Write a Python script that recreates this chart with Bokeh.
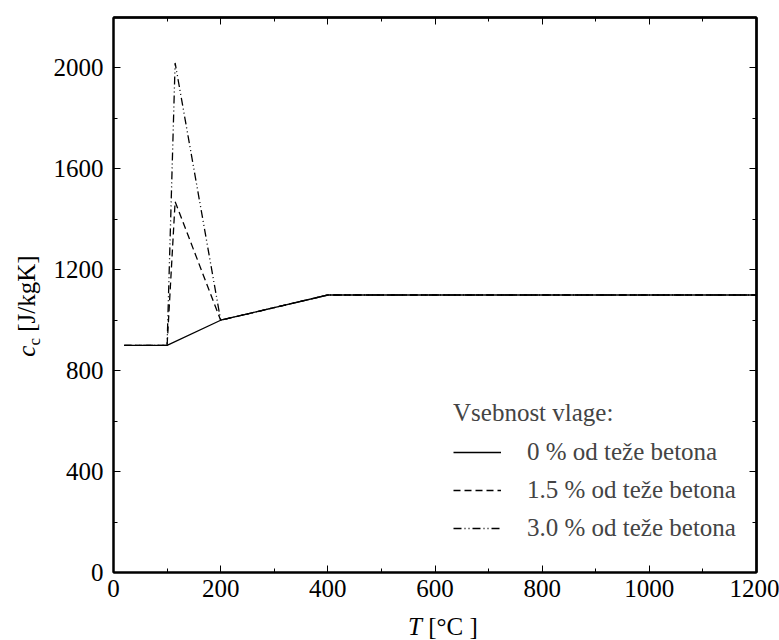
from bokeh.plotting import figure
from bokeh.models import (Range1d, FixedTicker, LinearAxis, Legend, LegendItem, Div)
from bokeh.layouts import row, column
from bokeh.embed import file_html
from bokeh.resources import INLINE

# ---- data ----
T_dry = [20, 100, 200, 400, 1200]
c_dry = [900, 900, 1000, 1100, 1100]
T_wet = [20, 100, 115, 200, 400, 1200]
c_15 = [900, 900, 1470, 1000, 1100, 1100]
c_30 = [900, 900, 2020, 1000, 1100, 1100]
series_labels = ["0 % od teže betona", "1.5 % od teže betona", "3.0 % od teže betona"]
legend_title = "Vsebnost vlage:"
x_ticks = [0, 200, 400, 600, 800, 1000, 1200]
x_minor = [100, 300, 500, 700, 900, 1100]
y_ticks = [0, 400, 800, 1200, 1600, 2000]
y_minor = [200, 600, 1000, 1400, 1800, 2200]

FONT = "Liberation Serif"
FS = "25px"

YDIV_W = 50
P_W = 779 - YDIV_W
P_H = 612
XDIV_H = 640 - P_H

p = figure(width=P_W, height=P_H, x_range=Range1d(0, 1200), y_range=Range1d(0, 2200),
           output_backend="svg", toolbar_location=None,
           min_border_left=112 - YDIV_W, min_border_right=23, min_border_top=17,
           min_border_bottom=P_H - 572)
p.grid.visible = False
p.outline_line_color = "black"
p.outline_line_width = 2

bottom_axis = p.below[0]
left_axis = p.left[0]
bottom_axis.ticker = FixedTicker(ticks=x_ticks, minor_ticks=x_minor)
left_axis.ticker = FixedTicker(ticks=y_ticks, minor_ticks=y_minor)

for ax in [bottom_axis, left_axis]:
    ax.axis_line_width = 2
    ax.axis_line_color = "black"
    ax.major_tick_in = 7
    ax.major_tick_out = 0
    ax.minor_tick_in = 4
    ax.minor_tick_out = 0
    ax.major_tick_line_color = "black"
    ax.minor_tick_line_color = "black"
    ax.major_label_text_font = FONT
    ax.major_label_text_font_size = FS
    ax.major_label_text_color = "black"

left_axis.major_label_standoff = 10
bottom_axis.major_label_standoff = 7

# label-free tick axes on the top and right edges (inward ticks only)
def tick_axis(marks, length):
    ax = LinearAxis(ticker=FixedTicker(ticks=[], minor_ticks=marks))
    ax.axis_line_width = 2
    ax.axis_line_color = "black"
    ax.major_tick_in = 0
    ax.major_tick_out = 0
    ax.minor_tick_in = length
    ax.minor_tick_out = 0
    ax.minor_tick_line_color = "black"
    ax.major_label_standoff = 0
    return ax

p.add_layout(tick_axis(x_ticks, 7), "above")
p.add_layout(tick_axis(x_minor, 4), "above")
p.add_layout(tick_axis(y_ticks, 7), "right")
p.add_layout(tick_axis(y_minor, 4), "right")

r0 = p.line(T_dry, c_dry, line_color="black", line_width=1.3)
r1 = p.line(T_wet, c_15, line_color="black", line_width=1.3, line_dash="7 4")
r2 = p.line(T_wet, c_30, line_color="black", line_width=1.3, line_dash="8 3 1 3 1 3")

legend = Legend(items=[LegendItem(label=series_labels[0], renderers=[r0]),
                       LegendItem(label=series_labels[1], renderers=[r1]),
                       LegendItem(label=series_labels[2], renderers=[r2])],
                title=legend_title, location=(340, 27))
legend.title_text_font = FONT
legend.title_text_font_size = FS
legend.title_text_font_style = "normal"
legend.title_standoff = 8
legend.label_text_font = FONT
legend.label_text_font_size = FS
legend.glyph_width = 48
legend.glyph_height = 34
legend.label_height = 34
legend.label_standoff = 26
legend.spacing = 4
legend.padding = 0
legend.margin = 0
legend.border_line_color = None
legend.background_fill_alpha = 0
p.add_layout(legend)

# axis titles with italic symbol and subscript (HTML)
y_html = (
    f'<div style="position:relative; width:{YDIV_W}px; height:{P_H}px;">'
    '<div style="position:absolute; left:28px; top:306px; white-space:nowrap; '
    f"font-family:'{FONT}'; font-size:{FS}; line-height:25px; color:black; "
    'transform:translate(-50%,-50%) rotate(-90deg);">'
    '<i>c</i><span style="font-size:17px; position:relative; top:5px;">c</span>&nbsp;[J/kgK]'
    '</div></div>'
)
x_html = (
    f'<div style="position:relative; width:{P_W}px; height:{XDIV_H}px;">'
    f'<div style="position:absolute; left:{408 - YDIV_W}px; top:1px; white-space:nowrap; '
    f"font-family:'{FONT}'; font-size:{FS}; line-height:28px; color:black;\">"
    '<i>T</i> [°C ]'
    '</div></div>'
)
ydiv = Div(text=y_html, width=YDIV_W, height=P_H, margin=0)
xdiv = Div(text=x_html, width=P_W, height=XDIV_H, margin=0)

layout = row(ydiv, column(p, xdiv, spacing=0), spacing=0)

open("out.html", "w").write(file_html(layout, INLINE))
